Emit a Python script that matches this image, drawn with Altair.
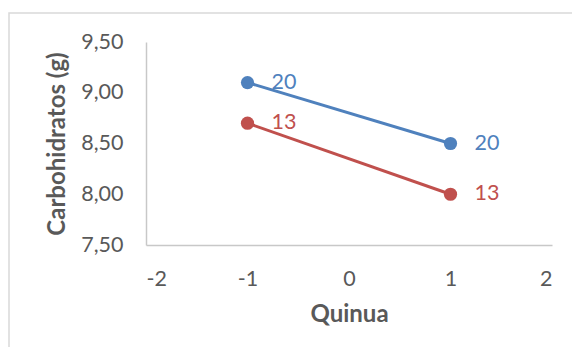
import altair as alt
import pandas as pd

quinua = [-1, 1, -1, 1]
carbo = [9.10, 8.50, 8.70, 8.00]
serie = ["20", "20", "13", "13"]

series_names = ["20", "13"]
series_colors = ["#4F81BD", "#C0504D"]
x_ticks = [-2, -1, 0, 1, 2]
y_ticks = [7.5, 8.0, 8.5, 9.0, 9.5]

df = pd.DataFrame({"Quinua": quinua, "Carbo": carbo, "Serie": serie})

FONT = "Lato"
W, H = 406, 203

x_enc = alt.X("Quinua:Q", scale=alt.Scale(domain=[-2, 2], nice=False),
              axis=alt.Axis(values=x_ticks, title="Quinua", grid=False, ticks=False,
                            labelPadding=23, titlePadding=13,
                            labelExpr="replace(format(datum.value, 'd'), '−', '-')"))
y_enc = alt.Y("Carbo:Q", scale=alt.Scale(domain=[7.5, 9.5], nice=False, zero=False),
              axis=alt.Axis(values=y_ticks, title="Carbohidratos (g)", grid=False, ticks=False,
                            labelPadding=23, titlePadding=11,
                            labelExpr="replace(format(datum.value, '.2f'), '.', ',')"))
color_enc = alt.Color("Serie:N", scale=alt.Scale(domain=series_names, range=series_colors), legend=None)

base = alt.Chart(df).encode(x=x_enc, y=y_enc, color=color_enc, detail="Serie:N")

frame = alt.Chart(pd.DataFrame({"a": [0]})).mark_rect(
    fill=None, stroke="#D9D9D9", strokeWidth=1.5, clip=False
).encode(x=alt.value(-137), x2=alt.value(W + 60), y=alt.value(-29), y2=alt.value(H + 140))

lines = base.mark_line(strokeWidth=3)
points = base.mark_point(filled=True, size=175, opacity=1)
labels = base.mark_text(align="left", baseline="middle", dx=24, fontSize=21.5, font=FONT).encode(text="Serie:N")

chart = alt.layer(frame, lines, points, labels).properties(
    width=W, height=H,
    background="white",
    autosize=alt.AutoSizeParams(type="none"),
    padding={"left": 138, "top": 34, "right": 20, "bottom": 102},
).configure_view(stroke=None).configure_axis(
    domainColor="#C8C8C8", domainWidth=1.5,
    labelColor="#595959", labelFont=FONT, labelFontSize=21.5,
    titleColor="#595959", titleFont=FONT, titleFontSize=24, titleFontWeight="bold",
)

chart.save("out.html", embed_options={"renderer": "svg", "actions": False})
